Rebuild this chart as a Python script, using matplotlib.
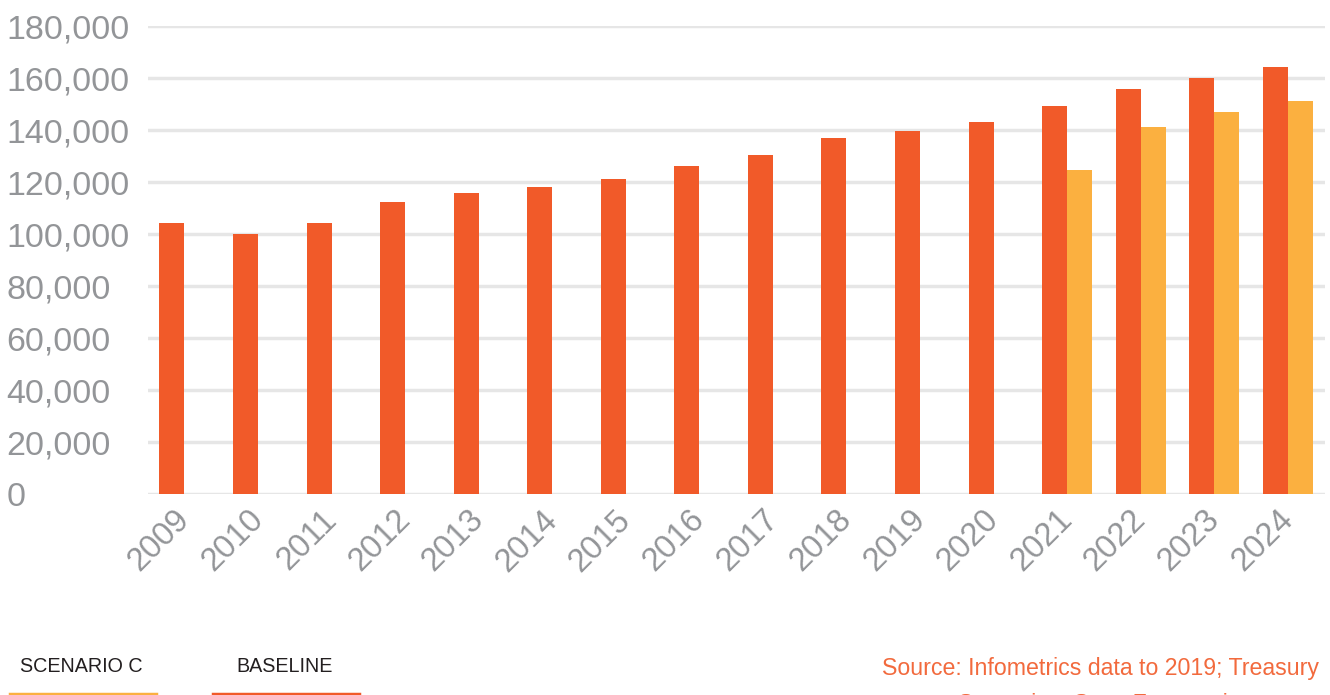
import numpy as np
import matplotlib
matplotlib.use("Agg")
import matplotlib.pyplot as plt

plt.rcParams['font.family'] = ['Liberation Sans', 'DejaVu Sans']

# data
years = ['2009', '2010', '2011', '2012', '2013', '2014', '2015', '2016',
         '2017', '2018', '2019', '2020', '2021', '2022', '2023', '2024']
baseline = [104500, 100000, 104500, 112400, 115900, 118200, 121300, 126300,
            130500, 137000, 139700, 143200, 149300, 155900, 160100, 164300]
scenario_c_years = ['2021', '2022', '2023', '2024']
scenario_c = [124700, 141300, 147000, 151300]

orange = '#f15a29'
yellow = '#fbb040'
grey_txt = '#939598'
grid_col = '#e6e6e6'

fig = plt.figure(figsize=(13.3, 6.95), dpi=100)
ax = fig.add_axes([148 / 1330, 1 - 494.3 / 695, (1325 - 148) / 1330, (494.3 - 26.3) / 695])

x = np.arange(len(years))
w = 0.34
ax.bar(x - w / 2 - 0.005, baseline, width=w, color=orange, zorder=3)
xc = np.array([years.index(y) for y in scenario_c_years])
ax.bar(xc + w / 2 - 0.005, scenario_c, width=w, color=yellow, zorder=3)

ax.set_xlim(-0.5, len(years) - 0.5)
ax.set_ylim(0, 180000)
ax.set_yticks(np.arange(0, 180001, 20000))
ax.yaxis.grid(True, color=grid_col, linewidth=2.5, zorder=0)
ax.set_axisbelow(True)
for s in ax.spines.values():
    s.set_visible(False)
ax.tick_params(length=0)
ax.set_yticklabels([f'{v:,}' for v in range(0, 180001, 20000)],
                   fontsize=24.5, color=grey_txt)
for lab in ax.get_yticklabels():
    lab.set_horizontalalignment('left')
    lab.set_x(-137 / (1325 - 148))
ax.set_xticks(x)
ax.set_xticklabels(years, rotation=45, ha='right', va='center',
                   rotation_mode='anchor', fontsize=23.5, color=grey_txt)
ax.tick_params(axis='x', pad=15)

# legend at the bottom
fig.text(20 / 1330, 1 - 666 / 695, 'SCENARIO C', fontsize=14.2, color='#231f20',
         va='center', ha='left')
fig.text(236 / 1330, 1 - 666 / 695, 'BASELINE', fontsize=14.2, color='#231f20',
         va='center', ha='left')
fig.add_artist(plt.Line2D([10 / 1330, 156 / 1330], [1 - 694 / 695] * 2,
                          color=yellow, linewidth=2.5))
fig.add_artist(plt.Line2D([213 / 1330, 359 / 1330], [1 - 694 / 695] * 2,
                          color=orange, linewidth=2.5))

# source note (second line runs off the bottom edge, as in the original)
fig.text(1319 / 1330, 1 - 668 / 695, 'Source: Infometrics data to 2019; Treasury',
         fontsize=16.7, color='#f26a3d', va='center', ha='right')
fig.text(958 / 1330, 1 - 705 / 695, 'Scenarios, Stats Forecasting to',
         fontsize=16.7, color='#f26a3d', va='center', ha='left')

fig.savefig('out.png', dpi=100)
